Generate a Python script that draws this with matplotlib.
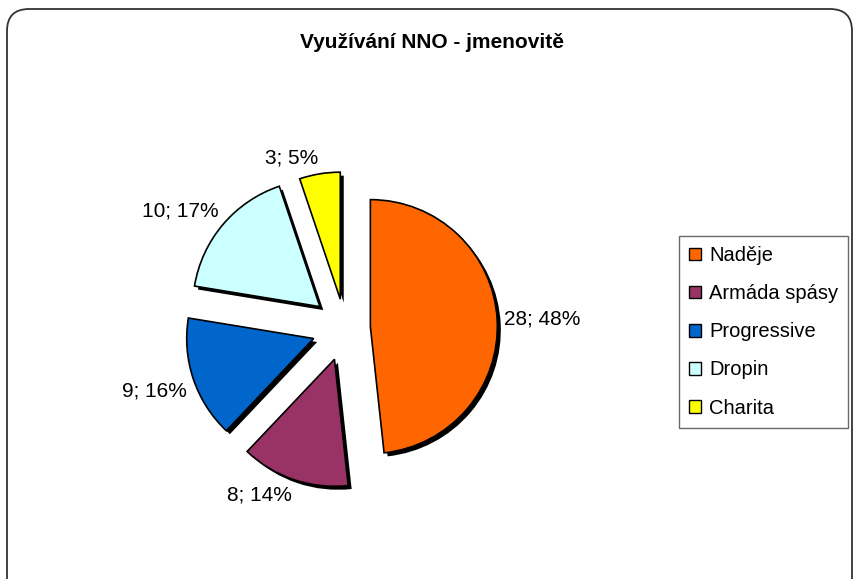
import matplotlib.pyplot as plt
import matplotlib.patheffects as pe
from matplotlib.patches import FancyBboxPatch
from matplotlib.transforms import IdentityTransform

plt.rcParams['font.family'] = ['Liberation Sans', 'DejaVu Sans']

names = ['Naděje', 'Armáda spásy', 'Progressive', 'Dropin', 'Charita']
counts = [28, 8, 9, 10, 3]
colors = ['#ff6600', '#993366', '#0066cc', '#ccffff', '#ffff00']
title = 'Využívání NNO - jmenovitě'

total = sum(counts)
labels = ['%d; %d%%' % (c, round(100.0 * c / total)) for c in counts]

W, H = 854, 579
fig = plt.figure(figsize=(W / 100, H / 100), dpi=100)

# rounded chart border in pixels (bottom/right run off the image like the original)
border = FancyBboxPatch((7, -40), 845, H - 9 + 40,
                        boxstyle='round,pad=0,rounding_size=22',
                        transform=IdentityTransform(), fill=False,
                        edgecolor='#333333', linewidth=1.3, clip_on=False)
fig.patches.append(border)

fig.text(432 / W, 1 - 42 / H, title, ha='center', va='center',
         fontsize=15, fontweight='bold')

# pie centred at ~ (345, 328) px, radius ~127 px
r_px = 127
ax = fig.add_axes([(345 - r_px) / W, 1 - (328 + r_px) / H, 2 * r_px / W, 2 * r_px / H])
wedges, texts = ax.pie(counts, colors=colors, labels=labels, startangle=90,
                       counterclock=False, explode=[0.2, 0.26, 0.26, 0.26, 0.23],
                       labeldistance=1.05, radius=1.0,
                       wedgeprops=dict(edgecolor='black', linewidth=1.2),
                       textprops=dict(fontsize=15))
for w in wedges:
    w.set_path_effects([pe.SimplePatchShadow(offset=(2.5, -2.5), shadow_rgbFace='black', alpha=1.0),
                        pe.Normal()])
# labels sit outside the slice, like excel does
for t in texts:
    y = t.get_position()[1]
    if y > 0.3:
        t.set_va('bottom')
    elif y < -0.3:
        t.set_va('top')
ax.set_aspect('equal')
ax.set_xlim(-1, 1)
ax.set_ylim(-1, 1)
ax.axis('off')

handles = [plt.Rectangle((0, 0), 1, 1, facecolor=c, edgecolor='black', linewidth=1) for c in colors]
leg = fig.legend(handles, names, loc='upper left',
                 bbox_to_anchor=(679 / W, 1 - 236 / H), fontsize=14.5,
                 frameon=True, fancybox=False, edgecolor='#444444',
                 handlelength=0.6, handleheight=0.6, handletextpad=0.4,
                 labelspacing=0.95, borderpad=0.5, borderaxespad=0)
leg.get_frame().set_linewidth(1.0)

fig.savefig('out.png', dpi=100)
